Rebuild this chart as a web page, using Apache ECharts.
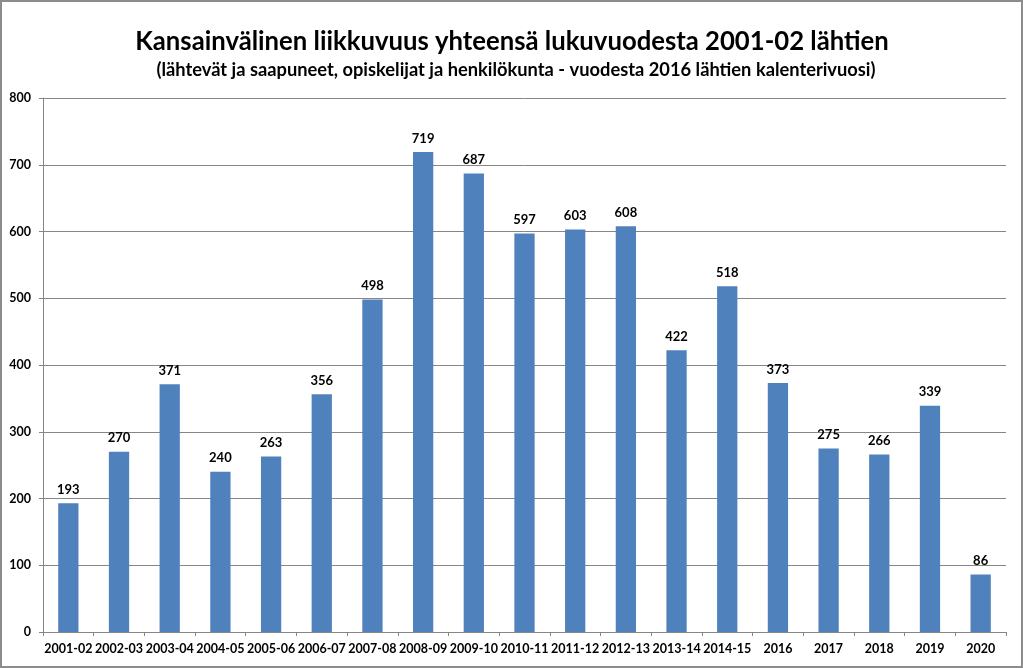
<!DOCTYPE html>
<html><head><meta charset="utf-8">
<script src="https://cdn.jsdelivr.net/npm/echarts@6/dist/echarts.min.js"></script>
<style>html,body{margin:0;padding:0;background:#fff}#c{width:1023px;height:668px}</style>
</head><body><div id="c"></div>
<script>
const categories = ['2001-02','2002-03','2003-04','2004-05','2005-06','2006-07','2007-08','2008-09','2009-10','2010-11','2011-12','2012-13','2013-14','2014-15','2016','2017','2018','2019','2020'];
const values = [193,270,371,240,263,356,498,719,687,597,603,608,422,518,373,275,266,339,86];
const yTicks = [0,100,200,300,400,500,600,700,800];
const titleText = 'Kansainvälinen liikkuvuus yhteensä lukuvuodesta 2001-02 lähtien';
const subtitleText = '(lähtevät ja saapuneet, opiskelijat ja henkilökunta - vuodesta 2016 lähtien kalenterivuosi)';

const chart = echarts.init(document.getElementById('c'), null, {renderer:'canvas'});
const F = 'Lato, "Open Sans", sans-serif';
chart.setOption({
  animation:false,
  backgroundColor:'#fff',
  title:[{
    text:titleText, left:512, top:29, textAlign:'center', padding:0,
    textStyle:{fontFamily:F, fontWeight:'bold', fontSize:25.7, color:'#000'}
  },{
    text:subtitleText, left:516, top:61, textAlign:'center', padding:0,
    textStyle:{fontFamily:F, fontWeight:'bold', fontSize:18.3, color:'#000'}
  }],
  graphic:[{type:'rect', shape:{x:1,y:1,width:1021,height:666}, style:{fill:'none', stroke:'#8c8c8c', lineWidth:2}, silent:true}],
  grid:{left:43, right:17, top:98, bottom:36},
  xAxis:{
    type:'category', data:categories,
    axisLine:{lineStyle:{color:'#868686'}},
    axisTick:{show:true, length:4, interval:0, lineStyle:{color:'#868686'}},
    axisLabel:{interval:0, fontFamily:F, fontWeight:'bold', fontSize:12.5, color:'#000', margin:10}
  },
  yAxis:{
    type:'value', min:yTicks[0], max:yTicks[yTicks.length-1], interval:100,
    axisLine:{show:true, lineStyle:{color:'#868686'}},
    axisTick:{show:true, length:4, lineStyle:{color:'#868686'}},
    splitLine:{lineStyle:{color:'#868686'}},
    axisLabel:{fontFamily:F, fontWeight:'bold', fontSize:12.5, color:'#000', margin:12}
  },
  series:[{
    type:'bar', data:values, barWidth:'40%',
    itemStyle:{color:'#4f81bd'},
    label:{show:true, position:'top', distance:7, fontFamily:F, fontWeight:'bold', fontSize:13, color:'#000'}
  }]
});
</script></body></html>
